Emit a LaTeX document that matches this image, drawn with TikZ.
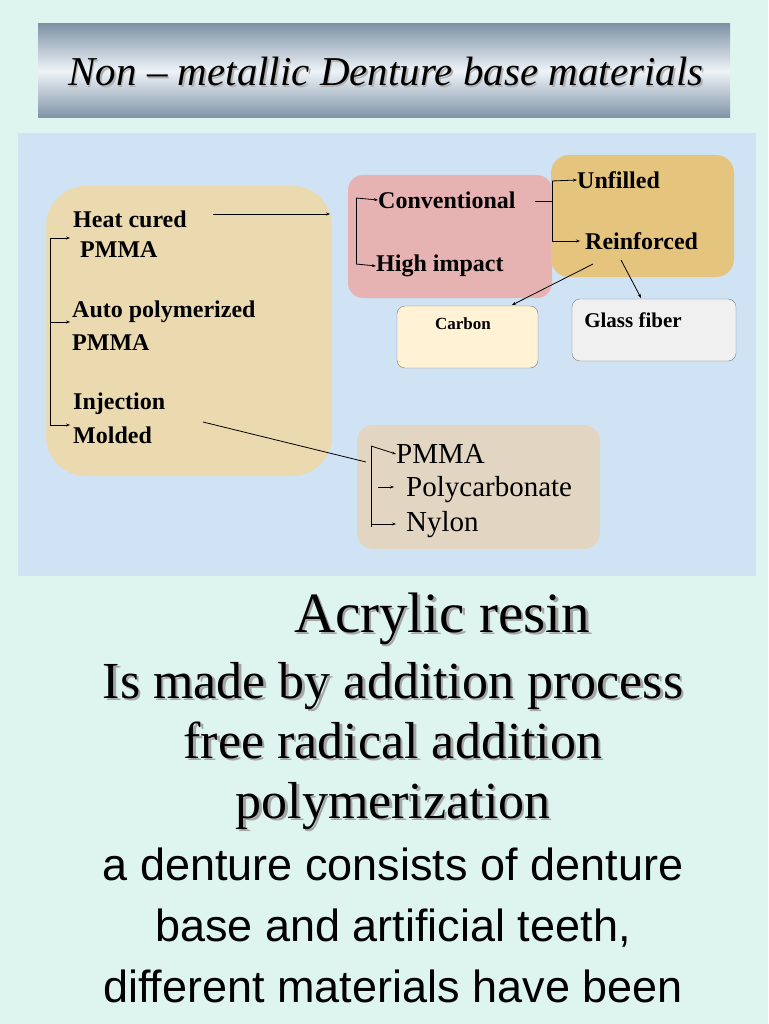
\documentclass[tikz,border=0pt]{standalone}
\usepackage{fontspec}
\setmainfont{Liberation Serif}
\setsansfont{Liberation Sans}
\usetikzlibrary{arrows.meta}
\definecolor{bgc}{HTML}{DDF5EE}
\definecolor{panel}{HTML}{CFE3F5}
\definecolor{tan}{HTML}{EBD9B0}
\definecolor{pink}{HTML}{E6B2B2}
\definecolor{gold}{HTML}{E5C47E}
\definecolor{cream}{HTML}{FFF2D5}
\definecolor{grayb}{HTML}{F0F0F0}
\definecolor{beige}{HTML}{E2D6C2}
\definecolor{bannerd}{HTML}{7F93A6}
\definecolor{bannerl}{HTML}{EEF3F8}
\begin{document}
\begin{tikzpicture}[x=1pt,y=-1pt,
  lbl/.style={anchor=west,inner sep=0pt,font=\fontsize{24}{26}\selectfont\bfseries},
  lblr/.style={anchor=west,inner sep=0pt,font=\fontsize{29}{31}\selectfont},
  arr/.style={-{Stealth[length=4pt,width=3pt]},line width=0.8pt},
  ln/.style={line width=0.8pt},
  big/.style={font=\fontsize{52}{56}\selectfont,inner sep=0pt,anchor=base},
  bigs/.style={font=\sffamily\fontsize{45}{50}\selectfont,inner sep=0pt,anchor=base}]
\useasboundingbox (0,0) rectangle (768,1024);
\fill[bgc] (0,0) rectangle (768,1024);
% banner
\shade[top color=bannerd,bottom color=bannerd,middle color=bannerl] (38,24) rectangle (730,118);
\node[font=\fontsize{41}{44}\selectfont\itshape,text=gray!60] at (387.5,73.5) {Non – metallic Denture base materials};
\node[font=\fontsize{41}{44}\selectfont\itshape] (title) at (386,72) {Non – metallic Denture base materials};
% panel
\fill[panel] (18,133) rectangle (756,576);
% boxes
\fill[tan,rounded corners=40pt] (46,186) rectangle (332,476);
\fill[pink,rounded corners=15pt] (348,175) rectangle (552,298);
\fill[gold,rounded corners=18pt] (551,155) rectangle (734,277);
\filldraw[fill=cream,draw=gray,rounded corners=8pt] (397,306) rectangle (538,368);
\filldraw[fill=grayb,draw=gray,rounded corners=8pt] (572,299) rectangle (736,361);
\fill[beige,rounded corners=16pt] (357,425) rectangle (600,549);
% texts
\node[lbl] (heat) at (73,219) {Heat cured};
\node[lbl] (heat2) at (80,250) {PMMA};
\node[lbl] (auto) at (72,312) {Auto polymerized};
\node[lbl] (auto2) at (72,343) {PMMA};
\node[lbl] (inj) at (73,404) {Injection};
\node[lbl] (mold) at (73,435) {Molded};
\node[lbl] (conv) at (378,200) {Conventional};
\node[lbl] (high) at (376,266) {High impact};
\node[lbl] (unf) at (577,180) {Unfilled};
\node[lbl] (rein) at (585,241) {Reinforced};
\node[anchor=center,inner sep=0pt,font=\fontsize{17}{18}\selectfont\bfseries] (carb) at (463,324) {Carbon};
\node[anchor=center,inner sep=0pt,font=\fontsize{21}{22}\selectfont\bfseries] (glass) at (633,320) {Glass fiber};
\node[lblr] (pm) at (396,454) {PMMA};
\node[lblr] (poly) at (406,490) {Polycarbonate};
\node[lblr] (nyl) at (406,525) {Nylon};
% connectors
\coordinate (b1) at (50,238); \coordinate (b2) at (50,322); \coordinate (b3) at (50,425);
\draw[ln] (b1) -- (b3);
\draw[arr] (b1) -- (70,238);
\draw[arr] (b2) -- (70,322);
\draw[arr] (b3) -- (70,425);
\draw[arr] (213,214) -- (330,214);
\draw[ln] (356,198) -- (356,264);
\draw[arr] (356,198) -- (conv.west);
\draw[arr] (356,264) -- (high.west);
\draw[ln] (535,201) -- (552,201);
\draw[ln] (552,181) -- (552,241);
\draw[arr] (552,181) -- (unf.west);
\draw[arr] (552,241) -- (580,241);
\draw[arr] (593,264) -- (512,305);
\draw[arr] (621,260) -- (641,298);
\draw[ln] (203,422) -- (366,462);
\draw[ln] (371,446) -- (371,527);
\draw[arr] (371,446) -- (pm.west);
\draw[arr] (378,487) -- (394,487);
\draw[arr] (371,524) -- (396,524);
% bottom text
\foreach \c/\o in {gray!70/2.5,black/0}{
\begin{scope}[shift={(\o,\o)},text=\c]
\node[big,font=\fontsize{57}{60}\selectfont] at (442,632) {Acrylic resin};
\node[big] at (393,698) {Is made by addition process};
\node[big] at (393,758) {free radical addition};
\node[big] at (393,818) {polymerization};
\end{scope}}
\node[bigs] at (393,880) {a denture consists of denture};
\node[bigs] at (393,941) {base and artificial teeth,};
\node[bigs] at (393,1002) {different materials have been};
\end{tikzpicture}
\end{document}
